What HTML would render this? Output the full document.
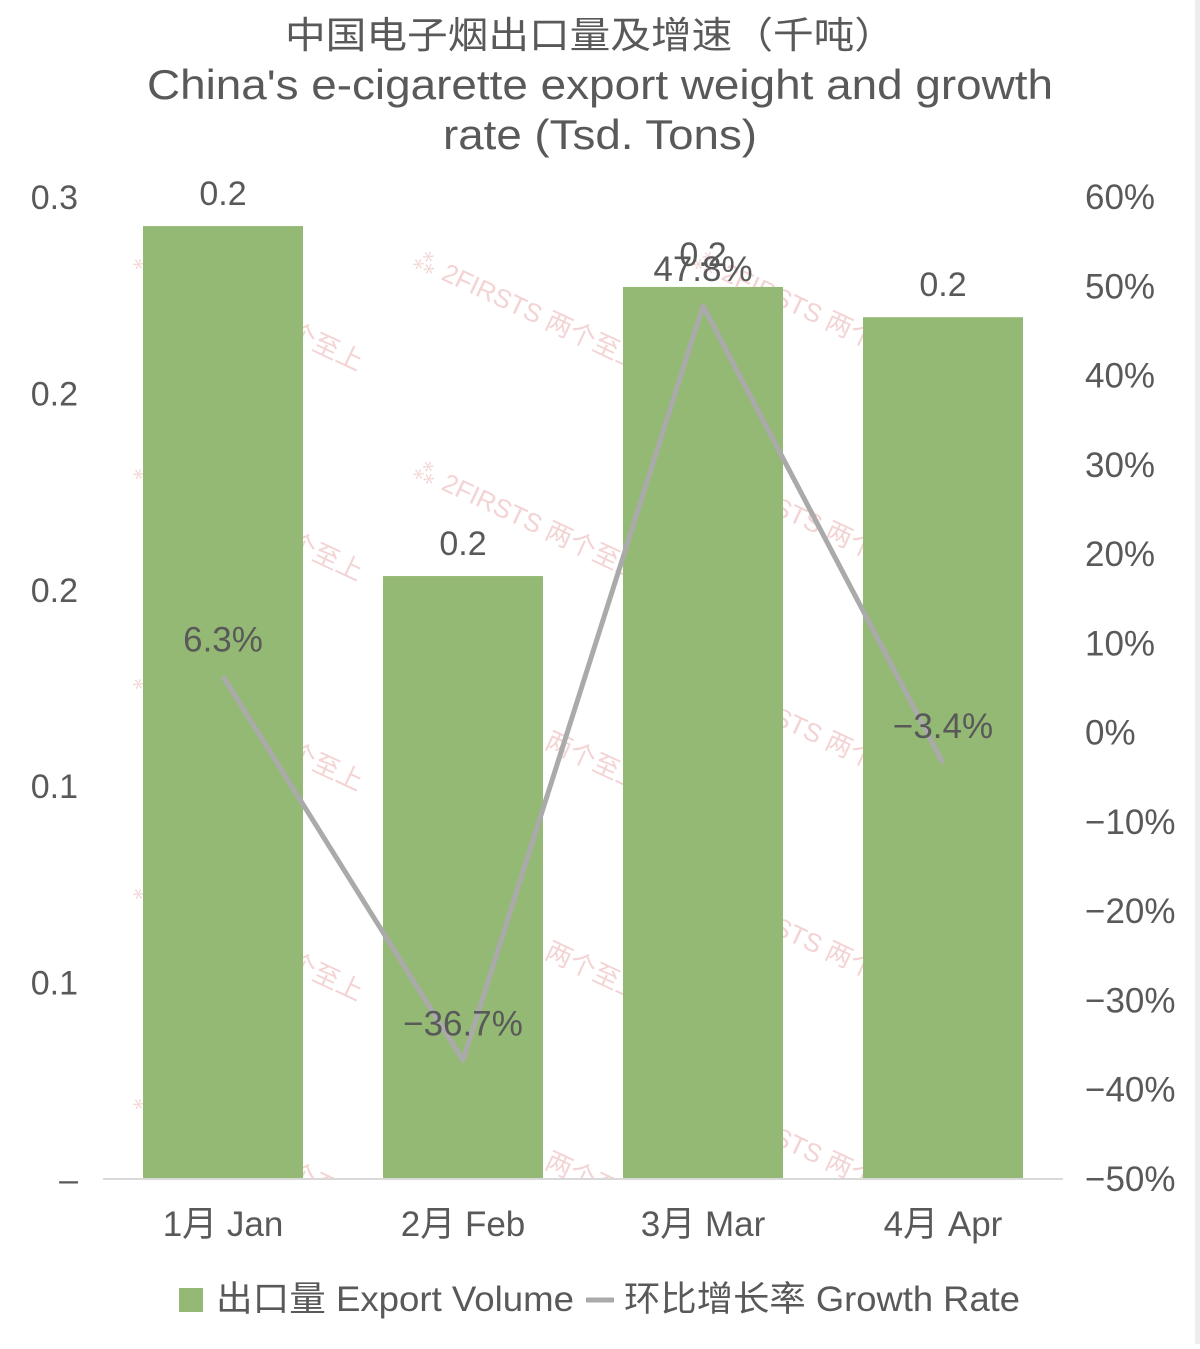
<!DOCTYPE html>
<html><head><meta charset="utf-8"><style>
body{margin:0;background:#fff;}
svg text{font-family:"Liberation Sans","Noto Sans CJK SC",sans-serif;fill:#595959;}
</style></head><body>
<svg id="c" width="1200" height="1344" xmlns="http://www.w3.org/2000/svg">
<defs><clipPath id="pc"><rect x="125" y="230" width="940" height="949"/></clipPath></defs>
<rect x="1195" y="0" width="5" height="1344" fill="#eeeeee"/>
<g text-anchor="middle">
<text x="590" y="48" font-size="37" textLength="610" lengthAdjust="spacingAndGlyphs">中国电子烟出口量及增速（千吨）</text>
<text x="600" y="99" font-size="42" textLength="906" lengthAdjust="spacingAndGlyphs">China's e-cigarette export weight and growth</text>
<text x="600" y="149" font-size="42" textLength="314" lengthAdjust="spacingAndGlyphs">rate (Tsd. Tons)</text>
</g>
<g id="wm" clip-path="url(#pc)"></g>
<g id="grid"></g><g id="bars"></g><g id="line"></g><g id="labels"></g><g id="axes"></g>
<g>
<rect x="179" y="1288" width="24" height="24" fill="#94b974"/>
<text x="216" y="1311" font-size="35" textLength="358" lengthAdjust="spacingAndGlyphs">出口量 Export Volume</text>
<line x1="586" y1="1300" x2="614" y2="1300" stroke="#aaaaaa" stroke-width="5"/>
<text x="624" y="1311" font-size="35" textLength="396" lengthAdjust="spacingAndGlyphs">环比增长率 Growth Rate</text>
</g>
</svg>
<script>
const categories=["1月 Jan","2月 Feb","3月 Mar","4月 Apr"];
const volumes=[0.2426,0.1535,0.2271,0.2194];
const volumeLabels=["0.2","0.2","0.2","0.2"];
const growth=[6.3,-36.7,47.8,-3.4];
const growthLabels=["6.3%","−36.7%","47.8%","−3.4%"];
const leftTicks=[0,0.05,0.1,0.15,0.2,0.25];
const leftTickLabels=["–","0.1","0.1","0.2","0.2","0.3"];
const rightTicks=[60,50,40,30,20,10,0,-10,-20,-30,-40,-50];
const rightTickLabels=["60%","50%","40%","30%","20%","10%","0%","−10%","−20%","−30%","−40%","−50%"];
const NS="http://www.w3.org/2000/svg";
const X0=103,X1=1063,Y0=1179,YT=197;
const yL=v=>Y0-(v/0.25)*(Y0-YT);
const yR=v=>Y0-((v+50)/110)*(Y0-YT);
const bw=(X1-X0)/categories.length;
const xC=i=>X0+bw*(i+0.5);
function mk(tag,attrs,parent,txt){const e=document.createElementNS(NS,tag);for(const k in attrs)e.setAttribute(k,attrs[k]);if(txt!==undefined)e.textContent=txt;document.getElementById(parent).appendChild(e);return e;}
for(let r=0;r<5;r++)for(let c=0;c<3;c++){
 const x=130+c*280,y=265+r*210;
 const t=mk('text',{x:x,y:y,'font-size':26,transform:`rotate(25 ${x} ${y})`,style:'fill:#f3d3d3'},'wm',"⁂ 2FIRSTS 两个至上");
 
 
}
const base=mk('line',{x1:X0,x2:X1,y1:Y0,y2:Y0,stroke:'#d9d9d9','stroke-width':2},'axes');


volumes.forEach((v,i)=>{
 const b=mk('rect',{x:xC(i)-80,y:yL(v),width:160,height:Y0-yL(v),fill:'#94b974'},'bars');
 
 
 const t=mk('text',{x:xC(i),y:yL(v)-21,'font-size':34,'text-anchor':'middle'},'labels',volumeLabels[i]);
 
 
 const c=mk('text',{x:xC(i),y:1236,'font-size':35,'text-anchor':'middle'},'axes',categories[i]);
 
 
});
const pl=mk('polyline',{points:growth.map((g,i)=>xC(i)+','+yR(g)).join(' '),fill:'none',stroke:'#aaaaaa','stroke-width':5,'stroke-linejoin':'round'},'line');


growth.forEach((g,i)=>{
 const t=mk('text',{x:xC(i),y:yR(g)-25,'font-size':35,'text-anchor':'middle'},'labels',growthLabels[i]);
 
 
});
leftTicks.forEach((v,i)=>{
 const t=mk('text',{x:78,y:yL(v)+12,'font-size':34,'text-anchor':'end'},'axes',leftTickLabels[i]);
 
 
});
rightTicks.forEach((v,i)=>{
 const t=mk('text',{x:1085,y:yR(v)+12,'font-size':35},'axes',rightTickLabels[i]);
 
 
});
</script>
</body></html>
